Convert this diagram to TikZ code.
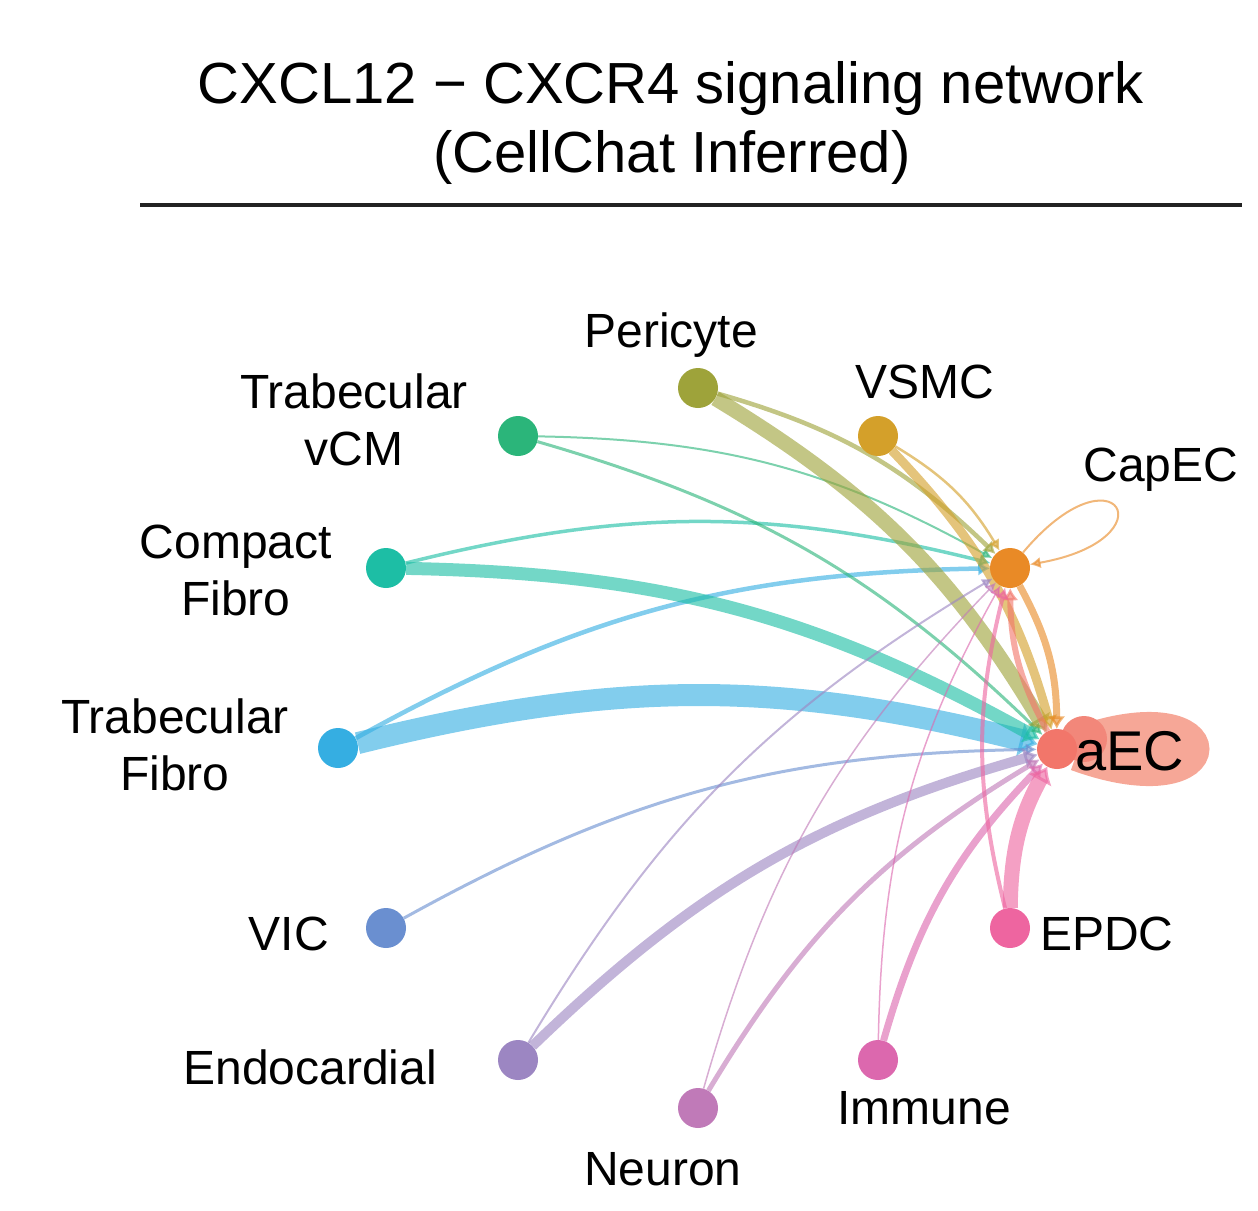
\documentclass[tikz,border=0pt]{standalone}
\usepackage{fontspec}
\setmainfont{Liberation Sans}
\usetikzlibrary{arrows.meta,backgrounds}
\definecolor{cPeri}{HTML}{9EA33A}
\definecolor{cVSMC}{HTML}{D4A02A}
\definecolor{cCap}{HTML}{E98A26}
\definecolor{cAEC}{HTML}{F2766A}
\definecolor{cEPDC}{HTML}{EE65A0}
\definecolor{cImm}{HTML}{DC68AE}
\definecolor{cNeu}{HTML}{C07AB8}
\definecolor{cEndo}{HTML}{9C86C2}
\definecolor{cVIC}{HTML}{6A8FD0}
\definecolor{cTF}{HTML}{35AEE2}
\definecolor{cCF}{HTML}{1DBEA5}
\definecolor{cTV}{HTML}{2BB57A}
\definecolor{cBlob}{HTML}{F6A797}
\definecolor{cBlobDark}{HTML}{F2877A}
\definecolor{cRule}{HTML}{222222}
\begin{document}
\begin{tikzpicture}[x=1pt,y=-1pt,
  cell/.style={circle,fill=#1,minimum size=40pt,inner sep=0pt},
  lbl/.style={font=\fontsize{48}{57}\selectfont,inner sep=0pt,align=center},
  ttl/.style={font=\fontsize{58}{70}\selectfont,inner sep=0pt},
  link/.style={draw=#1,opacity=0.62,-{Latex[length=10pt 0.35,width=9pt 1.25]}},
  bd/.style={bend left=14},
]
\useasboundingbox (0,0) rectangle (1258,1210);

% title
\node[ttl,anchor=base] (t1) at (671,103) {CXCL12 − CXCR4 signaling network};
\node[ttl,anchor=base] (t2) at (672,172) {(CellChat Inferred)};
\draw[cRule,line width=3.5pt] (140,205) -- (1242,205);

% cells
\node[cell=cPeri] (peri) at (698,388) {};
\node[cell=cVSMC] (vsmc) at (878,436) {};
\node[cell=cCap] (cap) at (1010,568) {};
\node[cell=cAEC] (aec) at (1057,749) {};
\node[cell=cEPDC] (epdc) at (1010,928) {};
\node[cell=cImm] (imm) at (878,1060) {};
\node[cell=cNeu] (neu) at (698,1108) {};
\node[cell=cEndo] (endo) at (518,1060) {};
\node[cell=cVIC] (vic) at (386,928) {};
\node[cell=cTF] (tf) at (338,748) {};
\node[cell=cCF] (cf) at (386,568) {};
\node[cell=cTV] (tv) at (518,436) {};

% labels
\node[lbl,anchor=base] (lperi) at (671,347) {Pericyte};
\node[lbl,anchor=base] (lvsmc) at (925,398) {VSMC};
\node[lbl,anchor=base] (lcap) at (1161,481) {CapEC};
\node[lbl,anchor=base west,font=\fontsize{56}{60}\selectfont] (laec) at (1075,770) {aEC};
\node[lbl,anchor=base west] (lepdc) at (1040,950) {EPDC};
\node[lbl,anchor=base] (limm) at (924,1124) {Immune};
\node[lbl,anchor=base] (lneu) at (663,1185) {Neuron};
\node[lbl,anchor=base east] (lendo) at (437,1084) {Endocardial};
\node[lbl,anchor=base east] (lvic) at (329,950) {VIC};
\node[lbl] (ltf) at (175,745) {Trabecular\\Fibro};
\node[lbl] (lcf) at (236,570) {Compact\\Fibro};
\node[lbl] (ltv) at (354,420) {Trabecular\\vCM};

\begin{scope}[on background layer]
\draw[link=cTF,line width=22pt] (tf) to[bd] (aec);
\draw[link=cTF,line width=4.5pt] (tf) to[bd] (cap);
\draw[link=cCF,line width=13pt] (cf) to[bd] (aec);
\draw[link=cCF,line width=3.5pt] (cf) to[bd] (cap);
\draw[link=cTV,line width=3pt] (tv) to[bd] (aec);
\draw[link=cTV,line width=2pt] (tv) to[bd] (cap);
\draw[link=cPeri,line width=15pt] (peri) to[bd] (aec);
\draw[link=cPeri,line width=4.5pt] (peri) to[bd] (cap);
\draw[link=cVSMC,line width=9pt] (vsmc) to[bd] (aec);
\draw[link=cVSMC,line width=2.5pt] (vsmc) to[bd] (cap);
\draw[link=cCap,line width=7pt] (cap) to[bd] (aec);
\draw[link=cCap,line width=2pt] (cap) to[out=50,in=10,min distance=145pt] (cap);
\draw[link=cAEC,line width=6pt] (aec) to[bd] (cap);
\draw[link=cVIC,line width=3pt] (vic) to[bd] (aec);
\draw[link=cEndo,line width=10pt] (endo) to[bd] (aec);
\draw[link=cEndo,line width=2pt] (endo) to[bd] (cap);
\draw[link=cNeu,line width=5pt] (neu) to[bd] (aec);
\draw[link=cNeu,line width=1.5pt] (neu) to[bd] (cap);
\draw[link=cImm,line width=7pt] (imm) to[bd] (aec);
\draw[link=cImm,line width=1.5pt] (imm) to[bd] (cap);
\draw[link=cEPDC,line width=15pt] (epdc) to[bd] (aec);
\draw[link=cEPDC,line width=4pt] (epdc) to[bd] (cap);
% aEC self loop
\path[fill=cBlob,draw=cBlob,line width=30pt] (aec) to[out=20,in=-20,min distance=168pt] (aec);
\fill[cBlobDark] (1084,739) circle[radius=23pt];
\end{scope}
\end{tikzpicture}
\end{document}
